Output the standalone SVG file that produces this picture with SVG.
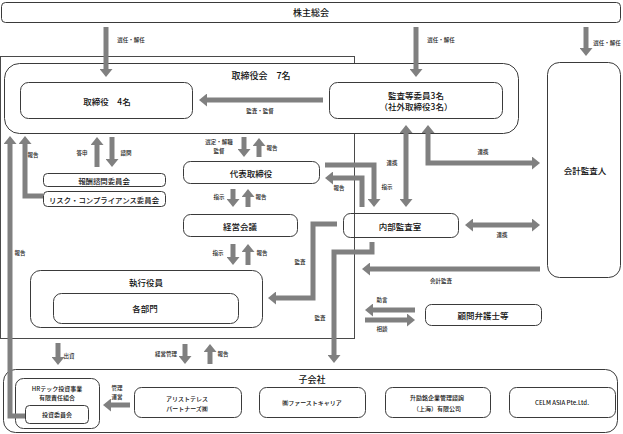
<svg xmlns="http://www.w3.org/2000/svg" width="623" height="434" viewBox="0 0 623 434">
<defs>
<style>
text{font-family:"Noto Sans CJK JP","Noto Sans",sans-serif;fill:#111;dominant-baseline:central;text-anchor:middle;font-weight:500}
.box{fill:#fff;stroke:#3a3a3a;stroke-width:1}
.nofill{fill:none;stroke:#3a3a3a;stroke-width:1}
.frame{fill:none;stroke:#4a4a4a;stroke-width:1}
.lg{font-size:9px}
.md{font-size:8.5px}
.sm{font-size:7.4px}
.xs{font-size:6px}
.lb{font-size:5.5px;fill:#222}
.ar{fill:none;stroke:#808080;stroke-width:5;stroke-linejoin:miter}
</style>
<marker id="ah" markerUnits="userSpaceOnUse" markerWidth="8" markerHeight="13" viewBox="0 0 8 13" refX="0" refY="6.5" orient="auto-start-reverse">
<path d="M0,0 L8,6.5 L0,13 z" fill="#808080"/>
</marker>
</defs>

<rect class="frame" x="0.5" y="56.5" width="354" height="282"/>

<g id="kabunushi"><rect class="box" x="1.5" y="2.5" width="619" height="20" rx="4"/><text class="lg" x="311" y="12.5">株主総会</text></g>

<g id="torishimariyakukai"><rect class="box" x="4.5" y="63.5" width="514" height="70" rx="15"/><text class="lg" x="261" y="75">取締役会　7名</text></g>
<g id="torishimariyaku"><rect class="box" x="20.5" y="82.5" width="172" height="36" rx="8"/><text class="md" x="107" y="100.5">取締役　4名</text></g>
<g id="kansatou"><rect class="box" x="329.5" y="82.5" width="173" height="36" rx="8"/><text class="md" x="416" y="95">監査等委員3名</text><text class="md" x="416" y="106">（社外取締役3名）</text></g>
<g id="kaikeikansanin"><rect class="box" x="547.5" y="62.5" width="73" height="215" rx="12"/><text class="md" x="585" y="170">会計監査人</text></g>
<g id="houshu"><rect class="box" x="43.5" y="173.5" width="122" height="13" rx="4"/><text class="sm" x="104" y="180">報酬諮問委員会</text></g>
<g id="risk"><rect class="box" x="43.5" y="191.5" width="122" height="15" rx="4"/><text class="sm" x="104" y="199">リスク・コンプライアンス委員会</text></g>
<g id="daihyou"><rect class="box" x="183.5" y="161.5" width="136" height="22" rx="7"/><text class="md" x="251" y="172.5">代表取締役</text></g>
<g id="keieikaigi"><rect class="box" x="183.5" y="214.5" width="114" height="22" rx="7"/><text class="md" x="240" y="225.5">経営会議</text></g>
<g id="naibukansa"><rect class="nofill" x="343.5" y="213.5" width="115" height="24" rx="7"/><text class="md" x="400" y="225.5">内部監査室</text></g>
<g id="shikkouyakuin"><rect class="box" x="30.5" y="270.5" width="232" height="57" rx="10"/><text class="md" x="146" y="282">執行役員</text></g>
<g id="kakubumon"><rect class="box" x="53.5" y="293.5" width="185" height="30" rx="8"/><text class="md" x="145" y="308">各部門</text></g>
<g id="komon"><rect class="box" x="425.5" y="304.5" width="116" height="21" rx="6"/><text class="md" x="483" y="315">顧問弁護士等</text></g>

<g id="kogaisha"><rect class="box" x="3.5" y="369.5" width="614" height="63" rx="12"/><text class="lg" x="312" y="379.5">子会社</text></g>
<g id="hrtech"><rect class="box" x="15.5" y="378.5" width="84" height="50" rx="8"/><text class="xs" x="57" y="388">HRテック投資事業</text><text class="xs" x="57" y="397.5">有限責任組合</text></g>
<g id="toushi"><rect class="box" x="25.5" y="405.5" width="63" height="18" rx="4"/><text class="xs" x="57" y="414.5">投資委員会</text></g>
<g id="aristoteles"><rect class="box" x="134.5" y="387.5" width="107" height="30" rx="7"/><text class="xs" x="187" y="398">アリストテレス</text><text class="xs" x="187" y="408">パートナーズ㈱</text></g>
<g id="firstcareer"><rect class="box" x="259.5" y="387.5" width="106" height="30" rx="7"/><text class="xs" x="312" y="402.5">㈱ファーストキャリア</text></g>
<g id="shoureimei"><rect class="box" x="385.5" y="387.5" width="105" height="30" rx="7"/><text class="xs" x="437" y="397.5">升励銘企業管理諮詢</text><text class="xs" x="437" y="408">（上海）有限公司</text></g>
<g id="celm"><rect class="box" x="509.5" y="387.5" width="106" height="30" rx="7"/><text class="xs" x="562" y="402.5">CELM ASIA Pte.Ltd.</text></g>

<g id="connectors">
<path class="ar" d="M106,27 V69" marker-end="url(#ah)"/>
<path class="ar" d="M416,27 V69" marker-end="url(#ah)"/>
<path class="ar" d="M586,27 V48" marker-end="url(#ah)"/>
<path class="ar" d="M323,100 H207" marker-end="url(#ah)"/>
<path class="ar" d="M97,167 V145" marker-end="url(#ah)"/>
<path class="ar" d="M112,137 V159" marker-end="url(#ah)"/>
<path class="ar" d="M244,137 V149" marker-end="url(#ah)"/>
<path class="ar" d="M259,157 V146" marker-end="url(#ah)"/>
<path class="ar" d="M233,189 V199" marker-end="url(#ah)"/>
<path class="ar" d="M248,207 V197" marker-end="url(#ah)"/>
<path class="ar" d="M233,244 V257" marker-end="url(#ah)"/>
<path class="ar" d="M248,265 V252" marker-end="url(#ah)"/>
<path class="ar" d="M25,416 H10 V144" marker-end="url(#ah)"/>
<path class="ar" d="M43,196 H25 V144" marker-end="url(#ah)"/>
<path class="ar" d="M325,165 H374 V199" marker-end="url(#ah)"/>
<path class="ar" d="M362,207 V178 H333" marker-end="url(#ah)"/>
<path class="ar" d="M406,133 V199" marker-start="url(#ah)" marker-end="url(#ah)"/>
<path class="ar" d="M428,133 V163 H532" marker-start="url(#ah)" marker-end="url(#ah)"/>
<path class="ar" d="M473,225 H532" marker-start="url(#ah)" marker-end="url(#ah)"/>
<path class="ar" d="M540,269 H370" marker-end="url(#ah)"/>
<path class="ar" d="M415,310 H373" marker-end="url(#ah)"/>
<path class="ar" d="M365,320 H407" marker-end="url(#ah)"/>
<path class="ar" d="M337,224 H313 V298 H276" marker-end="url(#ah)"/>
<path class="ar" d="M372,242 V252 H334 V355" marker-end="url(#ah)"/>
<path class="ar" d="M58,343 V357" marker-end="url(#ah)"/>
<path class="ar" d="M185,344 V356" marker-end="url(#ah)"/>
<path class="ar" d="M210,364 V352" marker-end="url(#ah)"/>
<path class="ar" d="M130,405 H111" marker-end="url(#ah)"/>

<text class="lb" x="131" y="40">選任・解任</text>
<text class="lb" x="441" y="40">選任・解任</text>
<text class="lb" x="607" y="43">選任・解任</text>
<text class="lb" x="260" y="111">監査・監督</text>
<text class="lb" x="82" y="153">答申</text>
<text class="lb" x="126" y="153">諮問</text>
<text class="lb" x="33" y="155">報告</text>
<text class="lb" x="219" y="142">選定・解職</text>
<text class="lb" x="219" y="151">監督</text>
<text class="lb" x="272" y="148">報告</text>
<text class="lb" x="219" y="197">指示</text>
<text class="lb" x="261" y="197">報告</text>
<text class="lb" x="218" y="253">指示</text>
<text class="lb" x="262" y="253">報告</text>
<text class="lb" x="20" y="253">報告</text>
<text class="lb" x="339" y="188">報告</text>
<text class="lb" x="387" y="187">指示</text>
<text class="lb" x="392" y="163">連携</text>
<text class="lb" x="483" y="152">連携</text>
<text class="lb" x="502" y="235">連携</text>
<text class="lb" x="441" y="281">会計監査</text>
<text class="lb" x="382" y="300">助言</text>
<text class="lb" x="382" y="329">相談</text>
<text class="lb" x="300" y="262">監査</text>
<text class="lb" x="320" y="318">監査</text>
<text class="lb" x="69" y="356">出資</text>
<text class="lb" x="166" y="354">経営管理</text>
<text class="lb" x="223" y="354">報告</text>
<text class="lb" x="117" y="388">管理</text>
<text class="lb" x="117" y="397">運営</text>
</g>
</svg>
